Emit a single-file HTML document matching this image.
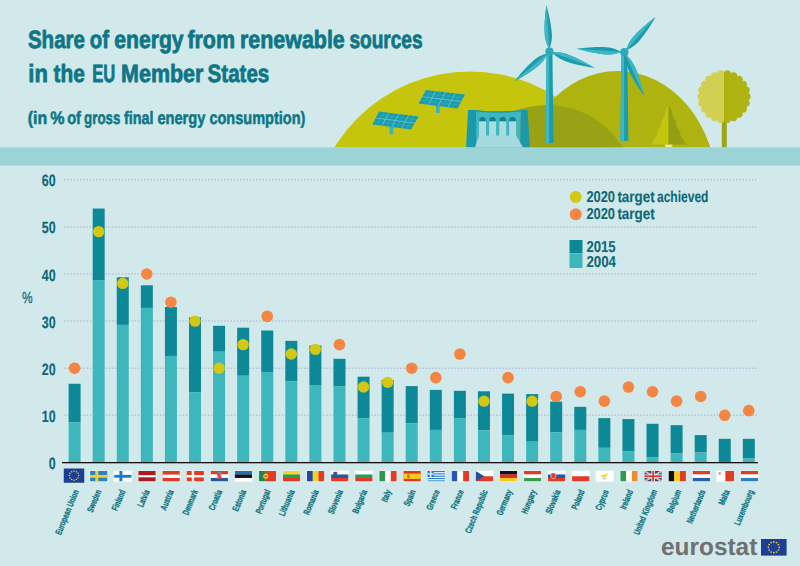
<!DOCTYPE html>
<html lang="en"><head><meta charset="utf-8"><title>Share of energy from renewable sources in the EU Member States</title><style>html,body{margin:0;padding:0;background:#d2e9eb;}svg{display:block;}</style></head><body>
<svg width="800" height="566" viewBox="0 0 800 566" font-family="'Liberation Sans', sans-serif" text-rendering="geometricPrecision">
<rect width="800" height="566" fill="#d2e9eb"/>
<defs><clipPath id="sky"><rect x="0" y="0" width="800" height="147.6"/></clipPath></defs>
<g clip-path="url(#sky)">
<circle cx="470" cy="230.4" r="158.9" fill="#c6c50e"/>
<ellipse cx="617.5" cy="190" rx="99.4" ry="119" fill="#aeb30f"/>
<circle cx="547" cy="193.7" r="88.7" fill="#97a214"/>
<rect x="389.6" y="126" width="3.6" height="8.4" fill="#35b3bf"/>
<polygon points="379.0,111.6 418.6,116.6 411.0,129.6 372.4,124.4" fill="#1b9bab"/>
<path d="M377.4 114.8L416.7 119.8M374.0 121.2L412.9 126.3M383.9 112.2L377.2 125.1M393.9 113.5L386.9 126.3M403.8 114.7L396.5 127.7M413.7 116.0L406.2 128.9" stroke="#4fbfca" stroke-width="0.5" fill="none" opacity="0.6"/>
<path d="M375.7 118.0L414.8 123.1M388.9 112.8L382.0 125.7M398.8 114.1L391.7 127.0M408.7 115.3L401.4 128.3" stroke="#6fd0d8" stroke-width="0.8" fill="none" opacity="0.9"/>
<rect x="436" y="105" width="3.6" height="8.0" fill="#35b3bf"/>
<polygon points="426.0,90.0 465.0,94.4 457.6,108.6 418.6,103.6" fill="#1b9bab"/>
<path d="M424.1 93.4L463.1 98.0M420.5 100.2L459.5 105.0M430.9 90.5L423.5 104.2M440.6 91.7L433.2 105.5M450.4 92.8L443.0 106.7M460.1 93.9L452.7 108.0" stroke="#4fbfca" stroke-width="0.5" fill="none" opacity="0.6"/>
<path d="M422.3 96.8L461.3 101.5M435.8 91.1L428.4 104.8M445.5 92.2L438.1 106.1M455.2 93.3L447.9 107.3" stroke="#6fd0d8" stroke-width="0.8" fill="none" opacity="0.9"/>
<polygon points="476,111 521,111 520,147.6 476,147.6" fill="#3eb6c2"/>
<path d="M468 110 L476 110 Q498 113 521 110 L527.5 110 L530 147.6 L520 147.6 L521 111.5 Q498 114 476 111.5 L476 147.6 L466 147.6 Z" fill="#1a9aa9"/>
<path d="M479.3 122 V120.2 A3.2 3.2 0 0 1 485.7 120.2 V122 Z" fill="#14808f"/>
<rect x="479.0" y="121.3" width="7" height="17" fill="#a9dbdf"/>
<path d="M489.4 122 V120.2 A3.2 3.2 0 0 1 495.8 120.2 V122 Z" fill="#14808f"/>
<rect x="489.1" y="121.3" width="7" height="17" fill="#a9dbdf"/>
<path d="M499.5 122 V120.2 A3.2 3.2 0 0 1 505.9 120.2 V122 Z" fill="#14808f"/>
<rect x="499.2" y="121.3" width="7" height="17" fill="#a9dbdf"/>
<path d="M509.4 122 V120.2 A3.2 3.2 0 0 1 515.8 120.2 V122 Z" fill="#14808f"/>
<rect x="509.1" y="121.3" width="7" height="17" fill="#a9dbdf"/>
<path d="M479 135.5 L516 135.5 L523 147.6 L475 147.6 Z" fill="#a4d9dd"/>
<polygon points="546.6,51.6 552.4,51.6 553.5,143 545.5,143" fill="#1b9cac"/>
<polygon points="546.6,51.6 549.2,51.6 549.2,143 545.5,143" fill="#3db7c4"/>
<g transform="translate(549.5 51.6) rotate(-93.8)"><path d="M2 0 C6.5 -1.4 10.2 -3.6 17.7 -3.6 C29.8 -3.5 41.9 -0.9 46.5 0 C41.9 0.9 29.8 3.5 17.7 3.6 C10.2 3.6 6.5 1.4 2 0Z" fill="#1b9cac"/><path d="M2 0 C6.5 -1.4 10.2 -3.6 17.7 -3.6 C29.8 -3.5 41.9 -0.9 46.5 0 Z" fill="#3db7c4"/></g>
<g transform="translate(549.5 51.6) rotate(19.8)"><path d="M2 0 C6.7 -1.4 10.6 -3.6 18.2 -3.6 C30.7 -3.5 43.2 -0.9 48 0 C43.2 0.9 30.7 3.5 18.2 3.6 C10.6 3.6 6.7 1.4 2 0Z" fill="#1b9cac"/><path d="M2 0 C6.7 -1.4 10.6 -3.6 18.2 -3.6 C30.7 -3.5 43.2 -0.9 48 0 Z" fill="#3db7c4"/></g>
<g transform="translate(549.5 51.6) rotate(139.8)"><path d="M2 0 C6.4 -1.4 10.1 -3.6 17.5 -3.6 C29.4 -3.5 41.4 -0.9 46 0 C41.4 0.9 29.4 3.5 17.5 3.6 C10.1 3.6 6.4 1.4 2 0Z" fill="#1b9cac"/><path d="M2 0 C6.4 -1.4 10.1 -3.6 17.5 -3.6 C29.4 -3.5 41.4 -0.9 46 0 Z" fill="#3db7c4"/></g>
<circle cx="549.5" cy="51.6" r="4.1" fill="#2aaab8"/>
<polygon points="621.5,52.2 627.3,52.2 628.4,141 620.4,141" fill="#1b9cac"/>
<polygon points="621.5,52.2 624.1,52.2 624.1,141 620.4,141" fill="#3db7c4"/>
<g transform="translate(624.4 52.2) rotate(-48.4)"><path d="M2 0 C6.6 -1.4 10.3 -3.6 17.9 -3.6 C30.1 -3.5 42.3 -0.9 47 0 C42.3 0.9 30.1 3.5 17.9 3.6 C10.3 3.6 6.6 1.4 2 0Z" fill="#1b9cac"/><path d="M2 0 C6.6 -1.4 10.3 -3.6 17.9 -3.6 C30.1 -3.5 42.3 -0.9 47 0 Z" fill="#3db7c4"/></g>
<g transform="translate(624.4 52.2) rotate(65.7)"><path d="M2 0 C6.7 -1.4 10.4 -3.6 18.1 -3.6 C30.4 -3.5 42.8 -0.9 47.5 0 C42.8 0.9 30.4 3.5 18.1 3.6 C10.4 3.6 6.7 1.4 2 0Z" fill="#1b9cac"/><path d="M2 0 C6.7 -1.4 10.4 -3.6 18.1 -3.6 C30.4 -3.5 42.8 -0.9 47.5 0 Z" fill="#3db7c4"/></g>
<g transform="translate(624.4 52.2) rotate(184.2)"><path d="M2 0 C6.7 -1.4 10.5 -3.6 18.2 -3.6 C30.6 -3.5 43.0 -0.9 47.8 0 C43.0 0.9 30.6 3.5 18.2 3.6 C10.5 3.6 6.7 1.4 2 0Z" fill="#1b9cac"/><path d="M2 0 C6.7 -1.4 10.5 -3.6 18.2 -3.6 C30.6 -3.5 43.0 -0.9 47.8 0 Z" fill="#3db7c4"/></g>
<circle cx="624.4" cy="52.2" r="4.1" fill="#2aaab8"/>
<polygon points="668.5,104.2 664.6,112.6 665.6,113.2 660.8,122.6 662,123.2 656.6,133 657.8,133.6 652.6,142 653.4,142.6 650.6,144.6 668.5,144.6" fill="#c4c50f"/>
<polygon points="668.5,104.2 672.6,112.6 671.6,113.2 676.4,122.6 675.2,123.2 680.6,133 679.4,133.6 684.6,142 683.8,142.6 687.6,144.6 668.5,144.6" fill="#929f14"/>
<rect x="665" y="144.6" width="7.4" height="3" fill="#e6e3a3"/>
<rect x="721.8" y="118" width="5" height="30" fill="#9ba614"/>
<defs><clipPath id="tl"><rect x="690" y="60" width="34" height="70"/></clipPath><clipPath id="tr"><rect x="724" y="60" width="34" height="70"/></clipPath></defs>
<g clip-path="url(#tl)" fill="#d3cf52"><circle cx="724" cy="96.7" r="23.0"/><circle cx="720.7" cy="119.5" r="3.6"/><circle cx="714.4" cy="117.6" r="3.6"/><circle cx="708.9" cy="114.1" r="3.6"/><circle cx="704.7" cy="109.1" r="3.6"/><circle cx="701.9" cy="103.2" r="3.6"/><circle cx="701.0" cy="96.7" r="3.6"/><circle cx="701.9" cy="90.2" r="3.6"/><circle cx="704.7" cy="84.3" r="3.6"/><circle cx="708.9" cy="79.3" r="3.6"/><circle cx="714.4" cy="75.8" r="3.6"/><circle cx="720.7" cy="73.9" r="3.6"/><circle cx="727.3" cy="73.9" r="3.6"/><circle cx="733.6" cy="75.8" r="3.6"/><circle cx="739.1" cy="79.3" r="3.6"/><circle cx="743.3" cy="84.3" r="3.6"/><circle cx="746.1" cy="90.2" r="3.6"/><circle cx="747.0" cy="96.7" r="3.6"/><circle cx="746.1" cy="103.2" r="3.6"/><circle cx="743.3" cy="109.1" r="3.6"/><circle cx="739.1" cy="114.1" r="3.6"/><circle cx="733.6" cy="117.6" r="3.6"/><circle cx="727.3" cy="119.5" r="3.6"/></g>
<g clip-path="url(#tr)" fill="#afb311"><circle cx="724" cy="96.7" r="23.0"/><circle cx="720.7" cy="119.5" r="3.6"/><circle cx="714.4" cy="117.6" r="3.6"/><circle cx="708.9" cy="114.1" r="3.6"/><circle cx="704.7" cy="109.1" r="3.6"/><circle cx="701.9" cy="103.2" r="3.6"/><circle cx="701.0" cy="96.7" r="3.6"/><circle cx="701.9" cy="90.2" r="3.6"/><circle cx="704.7" cy="84.3" r="3.6"/><circle cx="708.9" cy="79.3" r="3.6"/><circle cx="714.4" cy="75.8" r="3.6"/><circle cx="720.7" cy="73.9" r="3.6"/><circle cx="727.3" cy="73.9" r="3.6"/><circle cx="733.6" cy="75.8" r="3.6"/><circle cx="739.1" cy="79.3" r="3.6"/><circle cx="743.3" cy="84.3" r="3.6"/><circle cx="746.1" cy="90.2" r="3.6"/><circle cx="747.0" cy="96.7" r="3.6"/><circle cx="746.1" cy="103.2" r="3.6"/><circle cx="743.3" cy="109.1" r="3.6"/><circle cx="739.1" cy="114.1" r="3.6"/><circle cx="733.6" cy="117.6" r="3.6"/><circle cx="727.3" cy="119.5" r="3.6"/></g>
</g>
<rect x="0" y="147.4" width="800" height="18.2" fill="#9bd3d7"/>
<g fill="#0e7686" stroke="#0e7686" stroke-linejoin="round" font-weight="bold">
<text y="47.5" font-size="25" stroke-width="0.8"><tspan x="27.9" textLength="57.1" lengthAdjust="spacingAndGlyphs">Share</tspan> <tspan x="89.8" textLength="19.2" lengthAdjust="spacingAndGlyphs">of</tspan> <tspan x="114.2" textLength="69.4" lengthAdjust="spacingAndGlyphs">energy</tspan> <tspan x="187.4" textLength="47.6" lengthAdjust="spacingAndGlyphs">from</tspan> <tspan x="239.9" textLength="104.9" lengthAdjust="spacingAndGlyphs">renewable</tspan> <tspan x="349.4" textLength="73.1" lengthAdjust="spacingAndGlyphs">sources</tspan></text>
<text y="81.9" font-size="25" stroke-width="0.8"><tspan x="28.3" textLength="19.5" lengthAdjust="spacingAndGlyphs">in</tspan> <tspan x="53.5" textLength="31.2" lengthAdjust="spacingAndGlyphs">the</tspan> <tspan x="92.2" textLength="23.0" lengthAdjust="spacingAndGlyphs">EU</tspan> <tspan x="121.1" textLength="82.3" lengthAdjust="spacingAndGlyphs">Member</tspan> <tspan x="207.6" textLength="61.7" lengthAdjust="spacingAndGlyphs">States</tspan></text>
<text y="123.6" font-size="18" stroke-width="0.55"><tspan x="27.8" textLength="19.4" lengthAdjust="spacingAndGlyphs">(in</tspan> <tspan x="50.3" textLength="14.2" lengthAdjust="spacingAndGlyphs">%</tspan> <tspan x="67.2" textLength="13.8" lengthAdjust="spacingAndGlyphs">of</tspan> <tspan x="84.1" textLength="36.3" lengthAdjust="spacingAndGlyphs">gross</tspan> <tspan x="124.0" textLength="29.5" lengthAdjust="spacingAndGlyphs">final</tspan> <tspan x="157.4" textLength="48.0" lengthAdjust="spacingAndGlyphs">energy</tspan> <tspan x="209.4" textLength="96.0" lengthAdjust="spacingAndGlyphs">consumption)</tspan></text>
</g>
<path d="M64 415.30H757.6M64 368.20H757.6M64 321.10H757.6M64 274.00H757.6M64 226.90H757.6M64 179.80H757.6" stroke="#b7c3e1" stroke-width="1.5" stroke-dasharray="1.6 1.6" fill="none"/>
<g fill="#0c6878" stroke="#0c6878" stroke-width="0.15" stroke-linejoin="round" font-weight="bold" font-size="16.4" text-anchor="end">
<text x="55.6" y="468.9" textLength="6.9" lengthAdjust="spacingAndGlyphs">0</text>
<text x="55.6" y="421.8" textLength="13.8" lengthAdjust="spacingAndGlyphs">10</text>
<text x="55.6" y="374.7" textLength="13.8" lengthAdjust="spacingAndGlyphs">20</text>
<text x="55.6" y="327.6" textLength="13.8" lengthAdjust="spacingAndGlyphs">30</text>
<text x="55.6" y="280.5" textLength="13.8" lengthAdjust="spacingAndGlyphs">40</text>
<text x="55.6" y="233.4" textLength="13.8" lengthAdjust="spacingAndGlyphs">50</text>
<text x="55.6" y="186.3" textLength="13.8" lengthAdjust="spacingAndGlyphs">60</text>
</g>
<text x="22" y="303.1" fill="#0c6878" stroke="#0c6878" stroke-width="0.3" font-size="16" textLength="10.6" lengthAdjust="spacingAndGlyphs">%</text>
<rect x="68.60" y="383.74" width="12.0" height="38.62" fill="#0c8896"/>
<rect x="68.60" y="422.37" width="12.0" height="40.03" fill="#3db6bc"/>
<rect x="92.68" y="208.53" width="12.0" height="71.59" fill="#0c8896"/>
<rect x="92.68" y="280.12" width="12.0" height="182.28" fill="#3db6bc"/>
<rect x="116.76" y="277.30" width="12.0" height="47.57" fill="#0c8896"/>
<rect x="116.76" y="324.87" width="12.0" height="137.53" fill="#3db6bc"/>
<rect x="140.84" y="285.30" width="12.0" height="22.61" fill="#0c8896"/>
<rect x="140.84" y="307.91" width="12.0" height="154.49" fill="#3db6bc"/>
<rect x="164.92" y="306.97" width="12.0" height="48.98" fill="#0c8896"/>
<rect x="164.92" y="355.95" width="12.0" height="106.45" fill="#3db6bc"/>
<rect x="189.00" y="317.33" width="12.0" height="74.89" fill="#0c8896"/>
<rect x="189.00" y="392.22" width="12.0" height="70.18" fill="#3db6bc"/>
<rect x="213.08" y="325.81" width="12.0" height="25.91" fill="#0c8896"/>
<rect x="213.08" y="351.71" width="12.0" height="110.69" fill="#3db6bc"/>
<rect x="237.16" y="327.69" width="12.0" height="48.04" fill="#0c8896"/>
<rect x="237.16" y="375.74" width="12.0" height="86.66" fill="#3db6bc"/>
<rect x="261.24" y="330.52" width="12.0" height="41.45" fill="#0c8896"/>
<rect x="261.24" y="371.97" width="12.0" height="90.43" fill="#3db6bc"/>
<rect x="285.32" y="340.88" width="12.0" height="40.51" fill="#0c8896"/>
<rect x="285.32" y="381.39" width="12.0" height="81.01" fill="#3db6bc"/>
<rect x="309.40" y="345.59" width="12.0" height="40.03" fill="#0c8896"/>
<rect x="309.40" y="385.63" width="12.0" height="76.77" fill="#3db6bc"/>
<rect x="333.48" y="358.78" width="12.0" height="27.79" fill="#0c8896"/>
<rect x="333.48" y="386.57" width="12.0" height="75.83" fill="#3db6bc"/>
<rect x="357.56" y="376.68" width="12.0" height="41.45" fill="#0c8896"/>
<rect x="357.56" y="418.13" width="12.0" height="44.27" fill="#3db6bc"/>
<rect x="381.64" y="379.97" width="12.0" height="52.75" fill="#0c8896"/>
<rect x="381.64" y="432.73" width="12.0" height="29.67" fill="#3db6bc"/>
<rect x="405.72" y="386.10" width="12.0" height="37.21" fill="#0c8896"/>
<rect x="405.72" y="423.31" width="12.0" height="39.09" fill="#3db6bc"/>
<rect x="429.80" y="389.87" width="12.0" height="40.03" fill="#0c8896"/>
<rect x="429.80" y="429.90" width="12.0" height="32.50" fill="#3db6bc"/>
<rect x="453.88" y="390.81" width="12.0" height="27.32" fill="#0c8896"/>
<rect x="453.88" y="418.13" width="12.0" height="44.27" fill="#3db6bc"/>
<rect x="477.96" y="391.28" width="12.0" height="39.09" fill="#0c8896"/>
<rect x="477.96" y="430.37" width="12.0" height="32.03" fill="#3db6bc"/>
<rect x="502.04" y="393.63" width="12.0" height="41.45" fill="#0c8896"/>
<rect x="502.04" y="435.08" width="12.0" height="27.32" fill="#3db6bc"/>
<rect x="526.12" y="394.10" width="12.0" height="47.57" fill="#0c8896"/>
<rect x="526.12" y="441.68" width="12.0" height="20.72" fill="#3db6bc"/>
<rect x="550.20" y="401.64" width="12.0" height="30.62" fill="#0c8896"/>
<rect x="550.20" y="432.26" width="12.0" height="30.14" fill="#3db6bc"/>
<rect x="574.28" y="406.82" width="12.0" height="23.08" fill="#0c8896"/>
<rect x="574.28" y="429.90" width="12.0" height="32.50" fill="#3db6bc"/>
<rect x="598.36" y="418.13" width="12.0" height="29.67" fill="#0c8896"/>
<rect x="598.36" y="447.80" width="12.0" height="14.60" fill="#3db6bc"/>
<rect x="622.44" y="419.07" width="12.0" height="32.03" fill="#0c8896"/>
<rect x="622.44" y="451.10" width="12.0" height="11.30" fill="#3db6bc"/>
<rect x="646.52" y="423.78" width="12.0" height="33.44" fill="#0c8896"/>
<rect x="646.52" y="457.22" width="12.0" height="5.18" fill="#3db6bc"/>
<rect x="670.60" y="425.19" width="12.0" height="28.26" fill="#0c8896"/>
<rect x="670.60" y="453.45" width="12.0" height="8.95" fill="#3db6bc"/>
<rect x="694.68" y="435.08" width="12.0" height="17.43" fill="#0c8896"/>
<rect x="694.68" y="452.51" width="12.0" height="9.89" fill="#3db6bc"/>
<rect x="718.76" y="438.85" width="12.0" height="23.08" fill="#0c8896"/>
<rect x="718.76" y="461.93" width="12.0" height="0.47" fill="#3db6bc"/>
<rect x="742.84" y="438.85" width="12.0" height="19.31" fill="#0c8896"/>
<rect x="742.84" y="458.16" width="12.0" height="4.24" fill="#3db6bc"/>
<rect x="62" y="462.00" width="696" height="1.3" fill="#111"/>
<circle cx="74.60" cy="368.20" r="5.8" fill="#f48543"/>
<circle cx="98.68" cy="231.61" r="5.7" fill="#d3c813"/>
<circle cx="122.76" cy="283.42" r="5.7" fill="#d3c813"/>
<circle cx="146.84" cy="274.00" r="5.8" fill="#f48543"/>
<circle cx="170.92" cy="302.26" r="5.8" fill="#f48543"/>
<circle cx="195.00" cy="321.10" r="5.7" fill="#d3c813"/>
<circle cx="219.08" cy="368.20" r="5.7" fill="#d3c813"/>
<circle cx="243.16" cy="344.65" r="5.7" fill="#d3c813"/>
<circle cx="267.24" cy="316.39" r="5.8" fill="#f48543"/>
<circle cx="291.32" cy="354.07" r="5.7" fill="#d3c813"/>
<circle cx="315.40" cy="349.36" r="5.7" fill="#d3c813"/>
<circle cx="339.48" cy="344.65" r="5.8" fill="#f48543"/>
<circle cx="363.56" cy="387.04" r="5.7" fill="#d3c813"/>
<circle cx="387.64" cy="382.33" r="5.7" fill="#d3c813"/>
<circle cx="411.72" cy="368.20" r="5.8" fill="#f48543"/>
<circle cx="435.80" cy="377.62" r="5.8" fill="#f48543"/>
<circle cx="459.88" cy="354.07" r="5.8" fill="#f48543"/>
<circle cx="483.96" cy="401.17" r="5.7" fill="#d3c813"/>
<circle cx="508.04" cy="377.62" r="5.8" fill="#f48543"/>
<circle cx="532.12" cy="401.17" r="5.7" fill="#d3c813"/>
<circle cx="556.20" cy="396.46" r="5.8" fill="#f48543"/>
<circle cx="580.28" cy="391.75" r="5.8" fill="#f48543"/>
<circle cx="604.36" cy="401.17" r="5.8" fill="#f48543"/>
<circle cx="628.44" cy="387.04" r="5.8" fill="#f48543"/>
<circle cx="652.52" cy="391.75" r="5.8" fill="#f48543"/>
<circle cx="676.60" cy="401.17" r="5.8" fill="#f48543"/>
<circle cx="700.68" cy="396.46" r="5.8" fill="#f48543"/>
<circle cx="724.76" cy="415.30" r="5.8" fill="#f48543"/>
<circle cx="748.84" cy="410.59" r="5.8" fill="#f48543"/>
<circle cx="575.75" cy="197" r="6" fill="#d3c813"/>
<circle cx="575.75" cy="214.3" r="6" fill="#f48543"/>
<rect x="569.5" y="240" width="13" height="13.3" fill="#0c8896"/>
<rect x="569.5" y="253.3" width="13" height="14.7" fill="#3db6bc"/>
<g fill="#0c6878" stroke="#0c6878" stroke-linejoin="round" font-weight="bold">
<text y="201.6" font-size="15.8" stroke-width="0.1"><tspan x="586.4" textLength="28.6" lengthAdjust="spacingAndGlyphs">2020</tspan> <tspan x="617.4" textLength="37.2" lengthAdjust="spacingAndGlyphs">target</tspan> <tspan x="657.0" textLength="51.4" lengthAdjust="spacingAndGlyphs">achieved</tspan></text>
<text y="219" font-size="15.8" stroke-width="0.1"><tspan x="586.4" textLength="28.6" lengthAdjust="spacingAndGlyphs">2020</tspan> <tspan x="617.4" textLength="37.2" lengthAdjust="spacingAndGlyphs">target</tspan></text>
<text y="252.2" font-size="15.8" stroke-width="0.1"><tspan x="586.4" textLength="29.2" lengthAdjust="spacingAndGlyphs">2015</tspan></text>
<text y="267.4" font-size="15.8" stroke-width="0.1"><tspan x="586.4" textLength="29.6" lengthAdjust="spacingAndGlyphs">2004</tspan></text>
</g>
<rect x="63.75" y="468.5" width="20.5" height="14.25" fill="#1c3f94"/><circle cx="74.00" cy="471.02" r="0.75" fill="#f2d42a"/><circle cx="76.30" cy="471.64" r="0.75" fill="#f2d42a"/><circle cx="77.98" cy="473.32" r="0.75" fill="#f2d42a"/><circle cx="78.60" cy="475.62" r="0.75" fill="#f2d42a"/><circle cx="77.98" cy="477.93" r="0.75" fill="#f2d42a"/><circle cx="76.30" cy="479.61" r="0.75" fill="#f2d42a"/><circle cx="74.00" cy="480.23" r="0.75" fill="#f2d42a"/><circle cx="71.70" cy="479.61" r="0.75" fill="#f2d42a"/><circle cx="70.02" cy="477.93" r="0.75" fill="#f2d42a"/><circle cx="69.40" cy="475.62" r="0.75" fill="#f2d42a"/><circle cx="70.02" cy="473.32" r="0.75" fill="#f2d42a"/><circle cx="71.70" cy="471.64" r="0.75" fill="#f2d42a"/>
<defs><clipPath id="fc1"><rect x="90.05" y="471.00" width="17.5" height="10.5"/></clipPath></defs><rect x="89.45" y="470.40" width="18.7" height="11.7" fill="#e8f4f6"/><g clip-path="url(#fc1)"><rect x="90.05" y="471.00" width="17.50" height="10.50" fill="#2b83c6"/><rect x="95.30" y="471.00" width="2.98" height="10.50" fill="#f4d02c"/><rect x="90.05" y="474.99" width="17.50" height="2.73" fill="#f4d02c"/></g>
<defs><clipPath id="fc2"><rect x="114.15" y="471.00" width="17.5" height="10.5"/></clipPath></defs><rect x="113.55" y="470.40" width="18.7" height="11.7" fill="#e8f4f6"/><g clip-path="url(#fc2)"><rect x="114.15" y="471.00" width="17.50" height="10.50" fill="#fff"/><rect x="119.40" y="471.00" width="2.98" height="10.50" fill="#1e7bc6"/><rect x="114.15" y="474.88" width="17.50" height="2.83" fill="#1e7bc6"/></g>
<defs><clipPath id="fc3"><rect x="138.25" y="471.00" width="17.5" height="10.5"/></clipPath></defs><rect x="137.65" y="470.40" width="18.7" height="11.7" fill="#e8f4f6"/><g clip-path="url(#fc3)"><rect x="138.25" y="471.00" width="17.50" height="10.50" fill="#a81d1f"/><rect x="138.25" y="475.20" width="17.50" height="2.10" fill="#fff"/></g>
<defs><clipPath id="fc4"><rect x="162.35" y="471.00" width="17.5" height="10.5"/></clipPath></defs><rect x="161.75" y="470.40" width="18.7" height="11.7" fill="#e8f4f6"/><g clip-path="url(#fc4)"><rect x="162.35" y="471.00" width="17.50" height="10.50" fill="#e53b25"/><rect x="162.35" y="474.57" width="17.50" height="3.36" fill="#fff"/></g>
<defs><clipPath id="fc5"><rect x="186.45" y="471.00" width="17.5" height="10.5"/></clipPath></defs><rect x="185.85" y="470.40" width="18.7" height="11.7" fill="#e8f4f6"/><g clip-path="url(#fc5)"><rect x="186.45" y="471.00" width="17.50" height="10.50" fill="#e53b25"/><rect x="191.70" y="471.00" width="2.45" height="10.50" fill="#fff"/><rect x="186.45" y="475.10" width="17.50" height="2.31" fill="#fff"/></g>
<defs><clipPath id="fc6"><rect x="210.55" y="471.00" width="17.5" height="10.5"/></clipPath></defs><rect x="209.95" y="470.40" width="18.7" height="11.7" fill="#e8f4f6"/><g clip-path="url(#fc6)"><rect x="210.55" y="471.00" width="17.50" height="3.57" fill="#e53b25"/><rect x="210.55" y="474.46" width="17.50" height="3.57" fill="#fff"/><rect x="210.55" y="477.93" width="17.50" height="3.57" fill="#2457a6"/><rect x="217.38" y="473.31" width="3.85" height="5.25" fill="#e2665a"/><rect x="217.38" y="473.31" width="1.93" height="2.62" fill="#d93a2a"/><rect x="219.30" y="475.94" width="1.93" height="2.62" fill="#d93a2a"/><rect x="217.55" y="472.05" width="3.50" height="1.26" fill="#6a8fc8"/></g>
<defs><clipPath id="fc7"><rect x="234.65" y="471.00" width="17.5" height="10.5"/></clipPath></defs><rect x="234.05" y="470.40" width="18.7" height="11.7" fill="#e8f4f6"/><g clip-path="url(#fc7)"><rect x="234.65" y="471.00" width="17.50" height="3.57" fill="#2170b8"/><rect x="234.65" y="474.46" width="17.50" height="3.57" fill="#111"/><rect x="234.65" y="477.93" width="17.50" height="3.57" fill="#fff"/></g>
<defs><clipPath id="fc8"><rect x="258.75" y="471.00" width="17.5" height="10.5"/></clipPath></defs><rect x="258.15" y="470.40" width="18.7" height="11.7" fill="#e8f4f6"/><g clip-path="url(#fc8)"><rect x="258.75" y="471.00" width="7.00" height="10.50" fill="#1b8a4b"/><rect x="265.75" y="471.00" width="10.50" height="10.50" fill="#e53b25"/><circle cx="265.75" cy="476.25" r="2.5" fill="#f2d330"/><circle cx="265.75" cy="476.25" r="1.3" fill="#e5593f"/></g>
<defs><clipPath id="fc9"><rect x="282.85" y="471.00" width="17.5" height="10.5"/></clipPath></defs><rect x="282.25" y="470.40" width="18.7" height="11.7" fill="#e8f4f6"/><g clip-path="url(#fc9)"><rect x="282.85" y="471.00" width="17.50" height="3.57" fill="#f5d71f"/><rect x="282.85" y="474.46" width="17.50" height="3.57" fill="#2e9a4a"/><rect x="282.85" y="477.93" width="17.50" height="3.57" fill="#df3a26"/></g>
<defs><clipPath id="fc10"><rect x="306.95" y="471.00" width="17.5" height="10.5"/></clipPath></defs><rect x="306.35" y="470.40" width="18.7" height="11.7" fill="#e8f4f6"/><g clip-path="url(#fc10)"><rect x="306.95" y="471.00" width="5.95" height="10.50" fill="#22479e"/><rect x="312.72" y="471.00" width="5.95" height="10.50" fill="#f5d21f"/><rect x="318.50" y="471.00" width="5.95" height="10.50" fill="#e53b25"/></g>
<defs><clipPath id="fc11"><rect x="331.05" y="471.00" width="17.5" height="10.5"/></clipPath></defs><rect x="330.45" y="470.40" width="18.7" height="11.7" fill="#e8f4f6"/><g clip-path="url(#fc11)"><rect x="331.05" y="471.00" width="17.50" height="3.57" fill="#fff"/><rect x="331.05" y="474.46" width="17.50" height="3.57" fill="#2457a6"/><rect x="331.05" y="477.93" width="17.50" height="3.57" fill="#e53b25"/><path d="M333.50 472.05h3.50v3.15q-1.75 2.10 -3.50 0z" fill="#2457a6" stroke="#e53b25" stroke-width="0.4"/></g>
<defs><clipPath id="fc12"><rect x="355.15" y="471.00" width="17.5" height="10.5"/></clipPath></defs><rect x="354.55" y="470.40" width="18.7" height="11.7" fill="#e8f4f6"/><g clip-path="url(#fc12)"><rect x="355.15" y="471.00" width="17.50" height="3.57" fill="#fff"/><rect x="355.15" y="474.46" width="17.50" height="3.57" fill="#2e9a5a"/><rect x="355.15" y="477.93" width="17.50" height="3.57" fill="#df3a26"/></g>
<defs><clipPath id="fc13"><rect x="379.25" y="471.00" width="17.5" height="10.5"/></clipPath></defs><rect x="378.65" y="470.40" width="18.7" height="11.7" fill="#e8f4f6"/><g clip-path="url(#fc13)"><rect x="379.25" y="471.00" width="5.95" height="10.50" fill="#2e9a4a"/><rect x="385.02" y="471.00" width="5.95" height="10.50" fill="#fff"/><rect x="390.80" y="471.00" width="5.95" height="10.50" fill="#e53b25"/></g>
<defs><clipPath id="fc14"><rect x="403.35" y="471.00" width="17.5" height="10.5"/></clipPath></defs><rect x="402.75" y="470.40" width="18.7" height="11.7" fill="#e8f4f6"/><g clip-path="url(#fc14)"><rect x="403.35" y="471.00" width="17.50" height="10.50" fill="#e2351f"/><rect x="403.35" y="473.62" width="17.50" height="5.25" fill="#f8cf1c"/><rect x="407.20" y="474.46" width="2.45" height="3.57" fill="#c9703a"/></g>
<defs><clipPath id="fc15"><rect x="427.45" y="471.00" width="17.5" height="10.5"/></clipPath></defs><rect x="426.85" y="470.40" width="18.7" height="11.7" fill="#e8f4f6"/><g clip-path="url(#fc15)"><rect x="427.45" y="471.00" width="17.50" height="10.50" fill="#2a7fc6"/><rect x="427.45" y="472.17" width="17.50" height="1.17" fill="#fff"/><rect x="427.45" y="474.50" width="17.50" height="1.17" fill="#fff"/><rect x="427.45" y="476.83" width="17.50" height="1.17" fill="#fff"/><rect x="427.45" y="479.17" width="17.50" height="1.17" fill="#fff"/><rect x="427.45" y="471.00" width="6.47" height="5.83" fill="#2a7fc6"/><rect x="430.07" y="471.00" width="1.31" height="5.83" fill="#fff"/><rect x="427.45" y="473.33" width="6.47" height="1.17" fill="#fff"/></g>
<defs><clipPath id="fc16"><rect x="451.55" y="471.00" width="17.5" height="10.5"/></clipPath></defs><rect x="450.95" y="470.40" width="18.7" height="11.7" fill="#e8f4f6"/><g clip-path="url(#fc16)"><rect x="451.55" y="471.00" width="5.95" height="10.50" fill="#2457b6"/><rect x="457.32" y="471.00" width="5.95" height="10.50" fill="#fff"/><rect x="463.10" y="471.00" width="5.95" height="10.50" fill="#e53b25"/></g>
<defs><clipPath id="fc17"><rect x="475.65" y="471.00" width="17.5" height="10.5"/></clipPath></defs><rect x="475.05" y="470.40" width="18.7" height="11.7" fill="#e8f4f6"/><g clip-path="url(#fc17)"><rect x="475.65" y="471.00" width="17.50" height="5.25" fill="#fff"/><rect x="475.65" y="476.25" width="17.50" height="5.25" fill="#e53b25"/><polygon points="475.65,471.00 484.40,476.25 475.65,481.50" fill="#24509e"/></g>
<defs><clipPath id="fc18"><rect x="499.75" y="471.00" width="17.5" height="10.5"/></clipPath></defs><rect x="499.15" y="470.40" width="18.7" height="11.7" fill="#e8f4f6"/><g clip-path="url(#fc18)"><rect x="499.75" y="471.00" width="17.50" height="3.57" fill="#111"/><rect x="499.75" y="474.46" width="17.50" height="3.57" fill="#e2261c"/><rect x="499.75" y="477.93" width="17.50" height="3.57" fill="#f6cc1b"/></g>
<defs><clipPath id="fc19"><rect x="523.85" y="471.00" width="17.5" height="10.5"/></clipPath></defs><rect x="523.25" y="470.40" width="18.7" height="11.7" fill="#e8f4f6"/><g clip-path="url(#fc19)"><rect x="523.85" y="471.00" width="17.50" height="3.57" fill="#e53b25"/><rect x="523.85" y="474.46" width="17.50" height="3.57" fill="#fff"/><rect x="523.85" y="477.93" width="17.50" height="3.57" fill="#3a9a4e"/></g>
<defs><clipPath id="fc20"><rect x="547.95" y="471.00" width="17.5" height="10.5"/></clipPath></defs><rect x="547.35" y="470.40" width="18.7" height="11.7" fill="#e8f4f6"/><g clip-path="url(#fc20)"><rect x="547.95" y="471.00" width="17.50" height="3.57" fill="#fff"/><rect x="547.95" y="474.46" width="17.50" height="3.57" fill="#2457a6"/><rect x="547.95" y="477.93" width="17.50" height="3.57" fill="#e53b25"/><path d="M550.93 472.89h4.90v4.20q-2.45 3.15 -4.90 0z" fill="#e53b25" stroke="#fff" stroke-width="0.6"/></g>
<defs><clipPath id="fc21"><rect x="572.05" y="471.00" width="17.5" height="10.5"/></clipPath></defs><rect x="571.45" y="470.40" width="18.7" height="11.7" fill="#e8f4f6"/><g clip-path="url(#fc21)"><rect x="572.05" y="471.00" width="17.50" height="5.25" fill="#fff"/><rect x="572.05" y="476.25" width="17.50" height="5.25" fill="#e53b25"/></g>
<defs><clipPath id="fc22"><rect x="596.15" y="471.00" width="17.5" height="10.5"/></clipPath></defs><rect x="595.55" y="470.40" width="18.7" height="11.7" fill="#e8f4f6"/><g clip-path="url(#fc22)"><rect x="596.15" y="471.00" width="17.50" height="10.50" fill="#fff"/><path d="M600.70 475.41 q3.15 -0.42 7.35 -2.52 q-1.40 3.15 -3.15 4.41 q-2.45 0.84 -4.20 -1.89z" fill="#f1d222"/><path d="M602.80 478.35 q1.40 1.26 3.50 0" stroke="#5d8a4a" stroke-width="0.6" fill="none"/></g>
<defs><clipPath id="fc23"><rect x="620.25" y="471.00" width="17.5" height="10.5"/></clipPath></defs><rect x="619.65" y="470.40" width="18.7" height="11.7" fill="#e8f4f6"/><g clip-path="url(#fc23)"><rect x="620.25" y="471.00" width="5.95" height="10.50" fill="#2e9a4e"/><rect x="626.02" y="471.00" width="5.95" height="10.50" fill="#fff"/><rect x="631.80" y="471.00" width="5.95" height="10.50" fill="#f28a2e"/></g>
<defs><clipPath id="fc24"><rect x="644.35" y="471.00" width="17.5" height="10.5"/></clipPath></defs><rect x="643.75" y="470.40" width="18.7" height="11.7" fill="#e8f4f6"/><g clip-path="url(#fc24)"><rect x="644.35" y="471.00" width="17.50" height="10.50" fill="#27458f"/><path d="M644.35 471.00L661.85 481.50M661.85 471.00L644.35 481.50" stroke="#fff" stroke-width="1.7"/><path d="M644.35 471.00L661.85 481.50M661.85 471.00L644.35 481.50" stroke="#e2351f" stroke-width="0.6"/><rect x="651.35" y="471.00" width="3.50" height="10.50" fill="#fff"/><rect x="644.35" y="474.46" width="17.50" height="3.57" fill="#fff"/><rect x="652.23" y="471.00" width="1.75" height="10.50" fill="#e2351f"/><rect x="644.35" y="475.31" width="17.50" height="1.89" fill="#e2351f"/></g>
<defs><clipPath id="fc25"><rect x="668.45" y="471.00" width="17.5" height="10.5"/></clipPath></defs><rect x="667.85" y="470.40" width="18.7" height="11.7" fill="#e8f4f6"/><g clip-path="url(#fc25)"><rect x="668.45" y="471.00" width="5.95" height="10.50" fill="#111"/><rect x="674.23" y="471.00" width="5.95" height="10.50" fill="#f6d01c"/><rect x="680.00" y="471.00" width="5.95" height="10.50" fill="#e53b25"/></g>
<defs><clipPath id="fc26"><rect x="692.55" y="471.00" width="17.5" height="10.5"/></clipPath></defs><rect x="691.95" y="470.40" width="18.7" height="11.7" fill="#e8f4f6"/><g clip-path="url(#fc26)"><rect x="692.55" y="471.00" width="17.50" height="3.57" fill="#e53b25"/><rect x="692.55" y="474.46" width="17.50" height="3.57" fill="#fff"/><rect x="692.55" y="477.93" width="17.50" height="3.57" fill="#2661b0"/></g>
<defs><clipPath id="fc27"><rect x="716.65" y="471.00" width="17.5" height="10.5"/></clipPath></defs><rect x="716.05" y="470.40" width="18.7" height="11.7" fill="#e8f4f6"/><g clip-path="url(#fc27)"><rect x="716.65" y="471.00" width="8.75" height="10.50" fill="#fff"/><rect x="725.40" y="471.00" width="8.75" height="10.50" fill="#e53b25"/><circle cx="719.63" cy="473.52" r="1.4" fill="#e79a8e"/></g>
<defs><clipPath id="fc28"><rect x="740.75" y="471.00" width="17.5" height="10.5"/></clipPath></defs><rect x="740.15" y="470.40" width="18.7" height="11.7" fill="#e8f4f6"/><g clip-path="url(#fc28)"><rect x="740.75" y="471.00" width="17.50" height="3.57" fill="#e53b25"/><rect x="740.75" y="474.46" width="17.50" height="3.57" fill="#fff"/><rect x="740.75" y="477.93" width="17.50" height="3.57" fill="#2d7fc6"/></g>
<g fill="#0b7380" stroke="#0b7380" stroke-width="0.32" font-weight="bold" font-size="9.0" text-anchor="end">
<text transform="translate(79.00 491.2) rotate(-67.5) scale(0.69 1)">European Union</text>
<text transform="translate(101.37 491.2) rotate(-67.5) scale(0.69 1)">Sweden</text>
<text transform="translate(125.54 491.2) rotate(-67.5) scale(0.69 1)">Finland</text>
<text transform="translate(149.71 491.2) rotate(-67.5) scale(0.69 1)">Latvia</text>
<text transform="translate(173.88 491.2) rotate(-67.5) scale(0.69 1)">Austria</text>
<text transform="translate(198.05 491.2) rotate(-67.5) scale(0.69 1)">Denmark</text>
<text transform="translate(222.22 491.2) rotate(-67.5) scale(0.69 1)">Croatia</text>
<text transform="translate(246.39 491.2) rotate(-67.5) scale(0.69 1)">Estonia</text>
<text transform="translate(270.56 491.2) rotate(-67.5) scale(0.69 1)">Portugal</text>
<text transform="translate(294.73 491.2) rotate(-67.5) scale(0.69 1)">Lithuania</text>
<text transform="translate(318.90 491.2) rotate(-67.5) scale(0.69 1)">Romania</text>
<text transform="translate(343.07 491.2) rotate(-67.5) scale(0.69 1)">Slovenia</text>
<text transform="translate(367.24 491.2) rotate(-67.5) scale(0.69 1)">Bulgaria</text>
<text transform="translate(391.41 491.2) rotate(-67.5) scale(0.69 1)">Italy</text>
<text transform="translate(415.58 491.2) rotate(-67.5) scale(0.69 1)">Spain</text>
<text transform="translate(439.75 491.2) rotate(-67.5) scale(0.69 1)">Greece</text>
<text transform="translate(463.92 491.2) rotate(-67.5) scale(0.69 1)">France</text>
<text transform="translate(488.09 491.2) rotate(-67.5) scale(0.69 1)">Czech Republic</text>
<text transform="translate(512.26 491.2) rotate(-67.5) scale(0.69 1)">Germany</text>
<text transform="translate(536.43 491.2) rotate(-67.5) scale(0.69 1)">Hungary</text>
<text transform="translate(560.60 491.2) rotate(-67.5) scale(0.69 1)">Slovakia</text>
<text transform="translate(584.77 491.2) rotate(-67.5) scale(0.69 1)">Poland</text>
<text transform="translate(608.94 491.2) rotate(-67.5) scale(0.69 1)">Cyprus</text>
<text transform="translate(633.11 491.2) rotate(-67.5) scale(0.69 1)">Ireland</text>
<text transform="translate(657.28 491.2) rotate(-67.5) scale(0.69 1)">United Kingdom</text>
<text transform="translate(681.45 491.2) rotate(-67.5) scale(0.69 1)">Belgium</text>
<text transform="translate(705.62 491.2) rotate(-67.5) scale(0.69 1)">Netherlands</text>
<text transform="translate(729.79 491.2) rotate(-67.5) scale(0.69 1)">Malta</text>
<text transform="translate(753.96 491.2) rotate(-67.5) scale(0.69 1)">Luxembourg</text>
</g>
<text x="661" y="555.2" font-size="24.5" font-weight="bold" fill="#6f7072" textLength="96.3" lengthAdjust="spacingAndGlyphs">eurostat</text>
<rect x="761" y="539" width="25.6" height="16.6" fill="#1c3f94"/>
<circle cx="773.80" cy="541.90" r="0.85" fill="#f2d42a"/>
<circle cx="776.50" cy="542.62" r="0.85" fill="#f2d42a"/>
<circle cx="778.48" cy="544.60" r="0.85" fill="#f2d42a"/>
<circle cx="779.20" cy="547.30" r="0.85" fill="#f2d42a"/>
<circle cx="778.48" cy="550.00" r="0.85" fill="#f2d42a"/>
<circle cx="776.50" cy="551.98" r="0.85" fill="#f2d42a"/>
<circle cx="773.80" cy="552.70" r="0.85" fill="#f2d42a"/>
<circle cx="771.10" cy="551.98" r="0.85" fill="#f2d42a"/>
<circle cx="769.12" cy="550.00" r="0.85" fill="#f2d42a"/>
<circle cx="768.40" cy="547.30" r="0.85" fill="#f2d42a"/>
<circle cx="769.12" cy="544.60" r="0.85" fill="#f2d42a"/>
<circle cx="771.10" cy="542.62" r="0.85" fill="#f2d42a"/>
</svg>
</body></html>
